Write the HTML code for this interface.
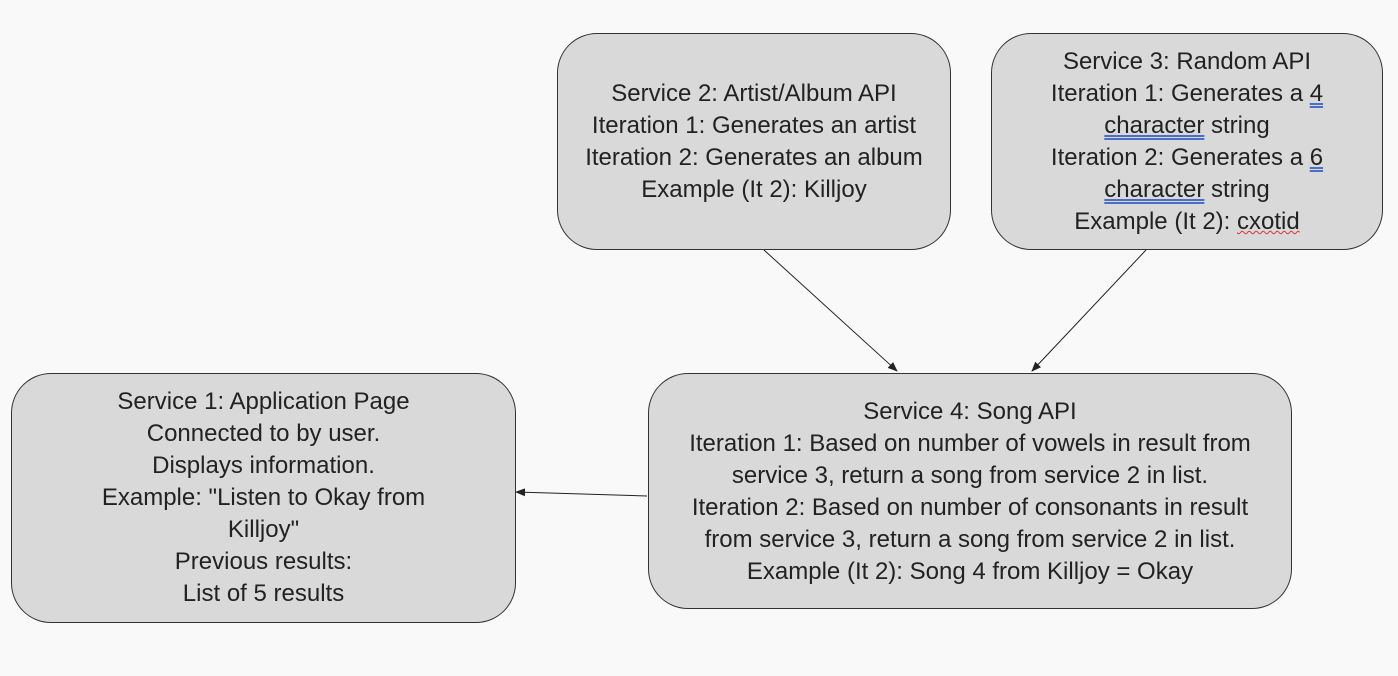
<!DOCTYPE html>
<html><head><meta charset="utf-8"><style>
body{margin:0;width:1398px;height:676px;background:#f9f9f9;position:relative;overflow:hidden;font-family:"Liberation Sans",sans-serif;color:#222}
.b{position:absolute;background:#d9d9d9;border:1.3px solid #333;border-radius:40px;box-sizing:border-box}
.t{position:absolute;left:-20px;right:-20px;text-align:center;font-size:24px;line-height:32px;white-space:nowrap}
.u{text-decoration:underline double #4a6fc9}
.w{text-decoration:underline wavy #d33;text-decoration-thickness:1px}
svg{position:absolute;left:0;top:0}
</style></head><body>
<div class="b" style="left:557px;top:33px;width:394px;height:217px">
<div class="t" style="top:44px">Service 2: Artist/Album API<br>Iteration 1: Generates an artist<br>Iteration 2: Generates an album<br>Example (It 2): Killjoy</div></div>
<div class="b" style="left:991px;top:33px;width:392px;height:217px">
<div class="t" style="top:12px">Service 3: Random API<br>Iteration 1: Generates a <span class="u">4</span><br><span class="u">character</span> string<br>Iteration 2: Generates a <span class="u">6</span><br><span class="u">character</span> string<br>Example (It 2): <span class="w">cxotid</span></div></div>
<div class="b" style="left:648px;top:373px;width:644px;height:236px">
<div class="t" style="top:22px">Service 4: Song API<br>Iteration 1: Based on number of vowels in result from<br>service 3, return a song from service 2 in list.<br>Iteration 2: Based on number of consonants in result<br>from service 3, return a song from service 2 in list.<br>Example (It 2): Song 4 from Killjoy = Okay</div></div>
<div class="b" style="left:11px;top:373px;width:505px;height:250px">
<div class="t" style="top:12px">Service 1: Application Page<br>Connected to by user.<br>Displays information.<br>Example: "Listen to Okay from<br>Killjoy"<br>Previous results:<br>List of 5 results</div></div>
<svg width="1398" height="676">
<defs><marker id="a" markerWidth="10" markerHeight="8" refX="9" refY="4" orient="auto" markerUnits="userSpaceOnUse"><path d="M0,0 L10,4 L0,8 z" fill="#222"/></marker></defs>
<line x1="764" y1="250" x2="897" y2="371" stroke="#222" stroke-width="1" marker-end="url(#a)"/>
<line x1="1146" y1="250" x2="1032" y2="371" stroke="#222" stroke-width="1" marker-end="url(#a)"/>
<line x1="647" y1="496" x2="516" y2="492" stroke="#222" stroke-width="1" marker-end="url(#a)"/>
</svg>
</body></html>
